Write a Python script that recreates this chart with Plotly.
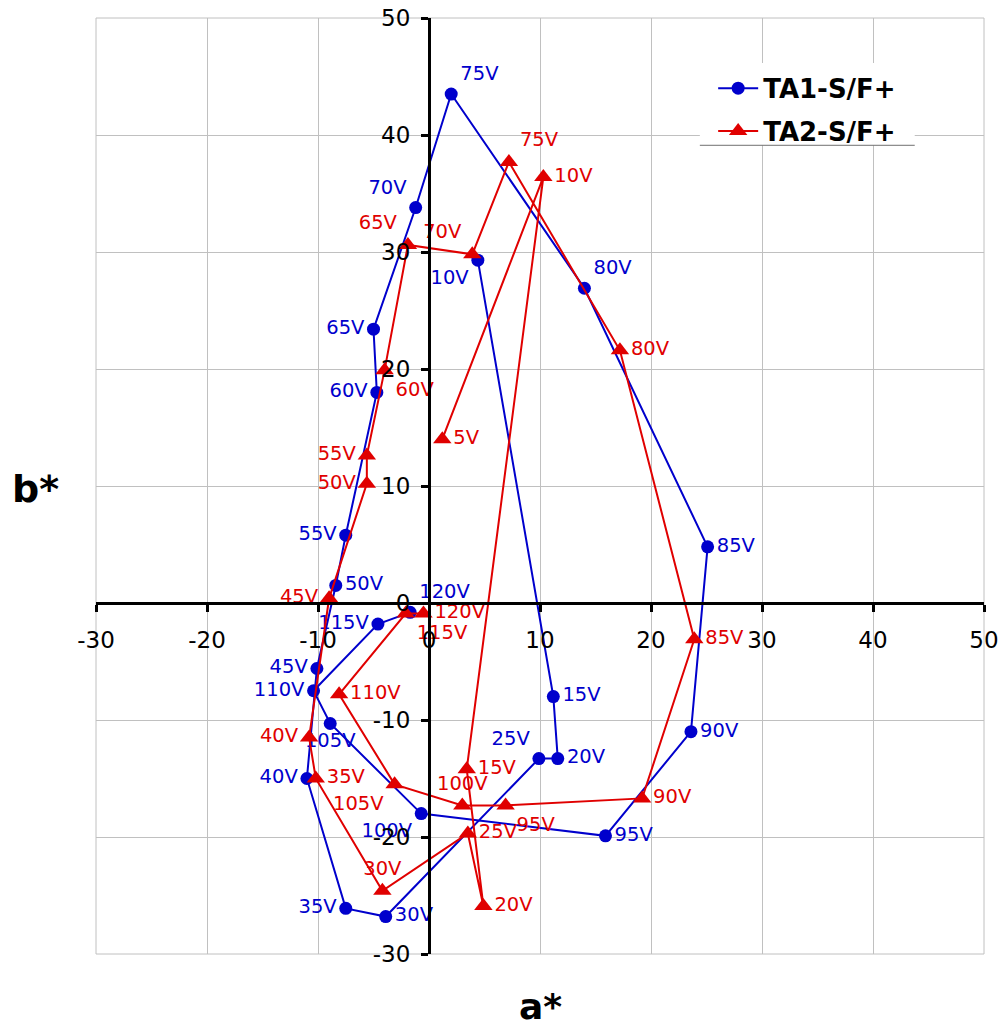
import plotly.graph_objects as go

# ---- data ----
ta1_labels = ["10V", "15V", "20V", "25V", "30V", "35V", "40V", "45V", "50V", "55V", "60V", "65V",
              "70V", "75V", "80V", "85V", "90V", "95V", "100V", "105V", "110V", "115V", "120V"]
ta1_a = [4.4, 11.2, 11.6, 9.9, -3.9, -7.5, -11.0, -10.1, -8.4, -7.5, -4.7, -5.0,
         -1.2, 2.0, 14.0, 25.1, 23.6, 15.9, -0.7, -8.9, -10.4, -4.6, -1.7]
ta1_b = [29.3, -8.0, -13.3, -13.3, -26.8, -26.1, -15.0, -5.6, 1.5, 5.8, 18.0, 23.4,
         33.8, 43.5, 26.9, 4.8, -11.0, -19.9, -18.0, -10.3, -7.5, -1.8, -0.8]
ta1_pos = ["bottom left", "middle right", "middle right", "top left", "middle right", "middle left",
           "middle left", "middle left", "middle right", "middle left", "middle left", "middle left",
           "top left", "top right", "top right", "middle right", "middle right", "middle right",
           "bottom left", "bottom center", "middle left", "middle left", "top right"]

ta2_labels = ["5V", "10V", "15V", "20V", "25V", "30V", "35V", "40V", "45V", "50V", "55V", "60V",
              "65V", "70V", "75V", "80V", "85V", "90V", "95V", "100V", "105V", "110V", "115V", "120V"]
ta2_a = [1.2, 10.3, 3.4, 4.9, 3.5, -4.2, -10.2, -10.8, -9.0, -5.6, -5.6, -4.0,
         -1.9, 3.9, 7.2, 17.2, 23.9, 19.2, 6.9, 3.0, -3.1, -8.1, -2.1, -0.5]
ta2_b = [14.0, 36.4, -14.2, -25.9, -19.7, -24.6, -15.0, -11.5, 0.4, 10.2, 12.6, 19.9,
         30.6, 29.8, 37.7, 21.6, -3.1, -16.7, -17.3, -17.3, -15.5, -7.8, -0.9, -0.9]
ta2_pos = ["middle right", "middle right", "middle right", "middle right", "middle right", "top center",
           "middle right", "middle left", "middle left", "middle left", "middle left", "bottom right",
           "top left", "top left", "top right", "middle right", "middle right", "middle right",
           "bottom right", "top center", "bottom left", "middle right", "bottom right", "middle right"]

tick_vals = [-30, -20, -10, 0, 10, 20, 30, 40, 50]
tick_text = ["-30", "-20", "-10", "0", "10", "20", "30", "40", "50"]

BLUE = "#0000CC"
RED = "#E00000"
FONT = "DejaVu Sans"

fig = go.Figure()
fig.add_trace(go.Scatter(
    x=ta1_a, y=ta1_b, mode="lines+markers+text", name="TA1-S/F+", legendgroup="g1",
    text=ta1_labels, textposition=ta1_pos,
    textfont=dict(family=FONT, size=19.5, color=BLUE),
    line=dict(color=BLUE, width=2),
    marker=dict(symbol="circle", size=13, color=BLUE),
))
fig.add_trace(go.Scatter(
    x=ta2_a, y=ta2_b, mode="lines+markers+text", name="TA2-S/F+", legendgroup="g2",
    text=ta2_labels, textposition=ta2_pos,
    textfont=dict(family=FONT, size=19.5, color=RED),
    line=dict(color=RED, width=2),
    marker=dict(symbol="triangle-up", size=16, color=RED),
))

axis_common = dict(
    range=[-30, 50], tickvals=tick_vals, ticktext=tick_text,
    showgrid=True, gridcolor="#c0c0c0", gridwidth=1,
    zeroline=False, showline=True, linecolor="black", linewidth=3,
    ticks="outside", ticklen=7, tickwidth=3, tickcolor="black",
    tickfont=dict(family=FONT, size=23, color="black"),
    anchor="free", position=0.375, automargin=False,
)
fig.update_layout(
    width=1001, height=1027,
    margin=dict(l=96, r=17, t=18, b=73),
    plot_bgcolor="white", paper_bgcolor="white",
    xaxis=dict(**axis_common, ticklabelstandoff=8),
    yaxis=dict(**axis_common, ticklabelstandoff=6),
    showlegend=True,
    legend=dict(x=0.695, y=0.95, xanchor="left", yanchor="top",
                bgcolor="rgba(0,0,0,0)", borderwidth=0,
                font=dict(family=FONT, size=26, color="black", weight="bold"),
                traceorder="grouped", tracegroupgap=6, itemwidth=40),
    annotations=[
        dict(text="<b>b*</b>", x=-0.0676, y=0.497, xref="paper", yref="paper",
             xanchor="center", yanchor="middle",
             showarrow=False, font=dict(family=FONT, size=38, color="black")),
        dict(text="<b>a*</b>", x=0.5, y=-0.056, xref="paper", yref="paper",
             xanchor="center", yanchor="middle",
             showarrow=False, font=dict(family=FONT, size=36, color="black")),
    ],
    shapes=[
        dict(type="rect", xref="paper", yref="paper", x0=0, x1=1, y0=0, y1=1,
             line=dict(color="#c0c0c0", width=1), layer="below"),
        dict(type="rect", xref="paper", yref="paper", x0=0.68, x1=0.922, y0=0.864, y1=0.952,
             fillcolor="white", line=dict(width=0), layer="above"),
        dict(type="line", xref="paper", yref="paper", x0=0.68, x1=0.922, y0=0.864, y1=0.864,
             line=dict(color="#707070", width=1), layer="above"),
    ],
)

fig.write_html("out.html")
